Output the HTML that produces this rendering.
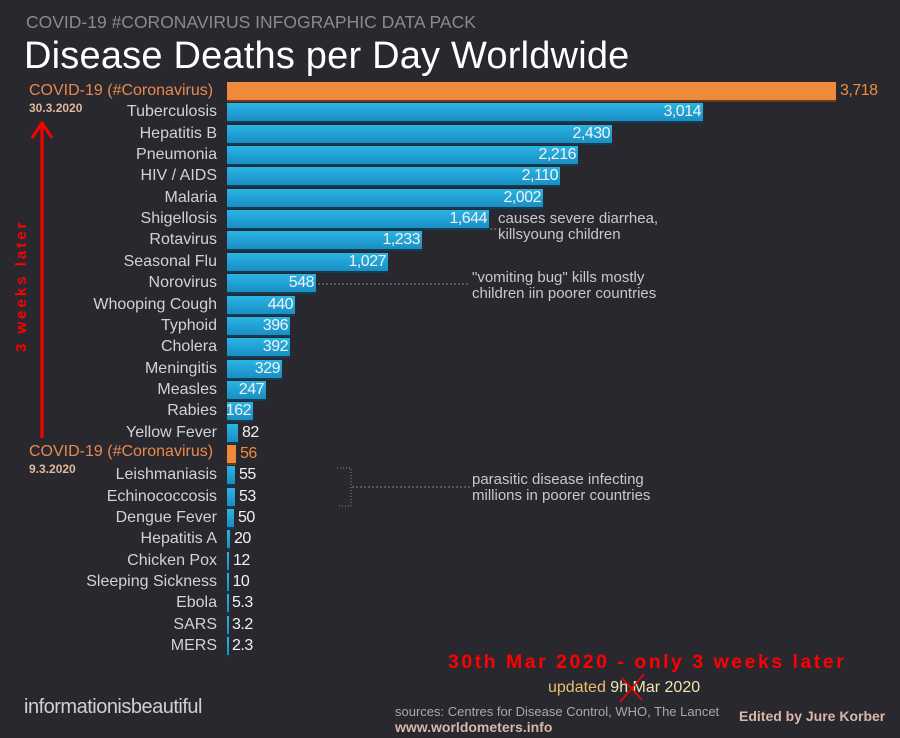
<!DOCTYPE html>
<html><head><meta charset="utf-8"><style>
body{margin:0;width:900px;height:738px;background:#29282f;overflow:hidden;position:relative;font-family:"Liberation Sans",sans-serif}
.a{position:absolute;white-space:nowrap}
.n{position:absolute;right:683px;font-size:16px;color:#d2d2d6;line-height:20px}
.b{position:absolute;left:227px;height:18px;background:linear-gradient(#29b4e4,#1a8fc4);box-shadow:0 2px 0 #123b55}
.v{position:absolute;font-family:"Liberation Sans Narrow","Liberation Sans",sans-serif;font-size:16px;color:#f2f2f2;line-height:18px;letter-spacing:-0.5px}
.note{position:absolute;font-size:15px;color:#c8c8cc;line-height:16px}
</style></head><body>
<div class="a" style="left:26px;top:12px;font-size:17.5px;color:#8a8a90">COVID-19 #CORONAVIRUS INFOGRAPHIC DATA PACK</div>
<div class="a" style="left:24px;top:35px;font-size:38px;color:#fff;letter-spacing:0.2px">Disease Deaths per Day Worldwide</div>
<div class="a" style="left:29px;top:82px;font-size:16px;color:#e88a4c">COVID-19 (#Coronavirus)</div>
<div class="a" style="left:29px;top:101px;font-size:12px;color:#e0b89a;font-weight:bold">30.3.2020</div>
<div class="a" style="left:29px;top:443px;font-size:16px;color:#e88a4c">COVID-19 (#Coronavirus)</div>
<div class="a" style="left:29px;top:462px;font-size:12px;color:#e0b89a;font-weight:bold">9.3.2020</div>
<svg class="a" style="left:25px;top:118px" width="30" height="330"><line x1="17" y1="8" x2="17" y2="320" stroke="#f00" stroke-width="3"/><polyline points="7,20 17,5 27,20" fill="none" stroke="#f00" stroke-width="3"/></svg>
<div class="a" style="left:13px;transform:rotate(-90deg);transform-origin:left top;font-size:15px;color:#f00;font-weight:bold;letter-spacing:3px;top:352px">3 weeks later</div>
<div id="c"></div>
<svg class="a" style="left:0;top:0" width="900" height="738">
<line x1="490" y1="229" x2="496" y2="229" stroke="#888" stroke-dasharray="2,2"/>
<line x1="318" y1="284" x2="470" y2="284" stroke="#888" stroke-dasharray="2,2"/>
<polyline points="337,468 351,468 351,506 337,506" fill="none" stroke="#888" stroke-dasharray="1,2"/>
<line x1="352" y1="487" x2="470" y2="487" stroke="#888" stroke-dasharray="2,2"/>
</svg>
<div class="note" style="left:498px;top:211px">causes severe diarrhea,<br>killsyoung children</div>
<div class="note" style="left:472px;top:270px">"vomiting bug" kills mostly<br>children iin poorer countries</div>
<div class="note" style="left:472px;top:472px">parasitic disease infecting<br>millions in poorer countries</div>
<div class="a" style="left:448px;top:651px;font-size:19.5px;color:#f00;font-weight:bold;letter-spacing:2.5px">30th Mar 2020 - only 3 weeks later</div>
<div class="a" style="left:548px;top:679px;font-size:16px;color:#f0e6b0"><span style="color:#e8c070">updated</span> 9h Mar 2020</div>
<svg class="a" style="left:618px;top:672px" width="30" height="32"><line x1="2" y1="30" x2="26" y2="2" stroke="#f00" stroke-width="1.5"/><line x1="4" y1="6" x2="24" y2="28" stroke="#f00" stroke-width="1.5"/></svg>
<div class="a" style="left:395px;top:704px;font-size:13px;color:#a8a8ae">sources: Centres for Disease Control, WHO, The Lancet</div>
<div class="a" style="left:395px;top:719px;font-size:14px;color:#d8b8a8;font-weight:bold">www.worldometers.info</div>
<div class="a" style="left:739px;top:708px;font-size:14px;color:#d8b8a8;font-weight:bold">Edited by Jure Korber</div>
<div class="a" style="left:24px;top:696px;font-size:20px;color:#d0d0d4;letter-spacing:-0.5px">informationisbeautiful</div>
<script>
var d=[["COVID-19 (#Coronavirus)","3,718",836,1],["Tuberculosis","3,014",703],["Hepatitis B","2,430",612],["Pneumonia","2,216",578],["HIV / AIDS","2,110",560],["Malaria","2,002",543],["Shigellosis","1,644",489],["Rotavirus","1,233",422],["Seasonal Flu","1,027",388],["Norovirus","548",316],["Whooping Cough","440",295],["Typhoid","396",290],["Cholera","392",290],["Meningitis","329",282],["Measles","247",266],["Rabies","162",253],["Yellow Fever","82",238],["COVID-19 (#Coronavirus)","56",236,1],["Leishmaniasis","55",235],["Echinococcosis","53",235],["Dengue Fever","50",234],["Hepatitis A","20",230],["Chicken Pox","12",229],["Sleeping Sickness","10",228.5],["Ebola","5.3",228],["SARS","3.2",228],["MERS","2.3",228]];
var h="";d.forEach(function(r,i){var y=82+i*21.35,w=r[2]-227;
if(!r[3])h+='<div class="n" style="top:'+(y-1)+'px">'+r[0]+'</div>';
var bg=r[3]?'background:#ef8a3c;box-shadow:0 2px 0 #6a3a1a;':'';
h+='<div class="b" style="top:'+y+'px;width:'+Math.max(w,1.5)+'px;'+bg+'"></div>';
if(i==0)h+='<div class="v" style="left:840px;top:'+y+'px;color:#ef8a3c">'+r[1]+'</div>';
else if(w>20)h+='<div class="v" style="right:'+(900-r[2]+2)+'px;top:'+y+'px">'+r[1]+'</div>';
else h+='<div class="v" style="left:'+(r[2]+4)+'px;top:'+y+'px;'+(r[3]?'color:#ef8a3c':'')+'">'+r[1]+'</div>';});
document.getElementById("c").innerHTML=h;
</script>
</body></html>
